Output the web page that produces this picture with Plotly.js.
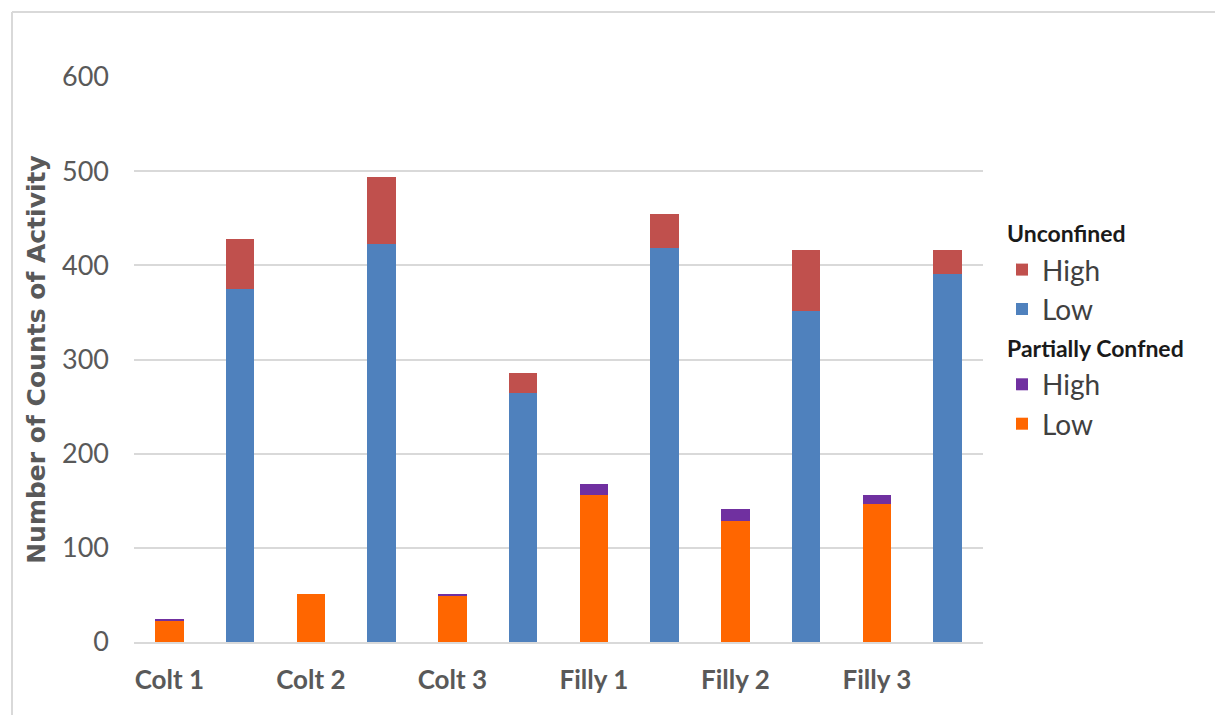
<!DOCTYPE html>
<html>
<head>
<meta charset="utf-8">
<script src="https://cdn.plot.ly/plotly-3.0.1.min.js"></script>
<style>
html,body{margin:0;padding:0;background:#fff;}
#chart{width:1215px;height:715px;}
</style>
</head>
<body>
<div id="chart"></div>
<script>
// Data
var animals = ["Colt 1", "Colt 2", "Colt 3", "Filly 1", "Filly 2", "Filly 3"];
var partialLow  = [22, 51, 49, 156, 129, 147];
var partialHigh = [2, 0, 2, 12, 12, 9];
var unconfinedLow  = [375, 423, 264, 418, 352, 391];
var unconfinedHigh = [53, 71, 22, 37, 64, 25];
var yTicks = [0, 100, 200, 300, 400, 500, 600];

// each animal occupies two slots: partially confined, then unconfined
var xPartial = animals.map(function(_, i){ return i * 2; });
var xUnconf  = animals.map(function(_, i){ return i * 2 + 1; });

var W = 1215, H = 715;
var M = {l: 134, r: 232, t: 77, b: 73};
var pw = W - M.l - M.r, ph = H - M.t - M.b;
function px(x){ return (x - M.l) / pw; }
function py(y){ return (H - M.b - y) / ph; }

var legendFont = {family: "Lato, 'Open Sans', sans-serif", size: 28, color: "#404040"};
var groupFont = {family: "Lato, 'Open Sans', sans-serif", size: 23, color: "#1a1a1a", weight: "bold"};

var traces = [
  {type: "bar", x: xUnconf, y: unconfinedLow, name: "Low",
   marker: {color: "#4F81BD"}, legendgroup: "unconf",
   legendgrouptitle: {text: "Unconfined", font: groupFont}},
  {type: "bar", x: xUnconf, y: unconfinedHigh, name: "High",
   marker: {color: "#C0504D"}, legendgroup: "unconf",
   legendgrouptitle: {text: "Unconfined", font: groupFont}},
  {type: "bar", x: xPartial, y: partialLow, name: "Low",
   marker: {color: "#FF6600"}, legendgroup: "partial",
   legendgrouptitle: {text: "Partially Confned", font: groupFont}},
  {type: "bar", x: xPartial, y: partialHigh, name: "High",
   marker: {color: "#7030A0"}, legendgroup: "partial",
   legendgrouptitle: {text: "Partially Confned", font: groupFont}}
];

var layout = {
  width: W, height: H,
  margin: M,
  paper_bgcolor: "#ffffff",
  plot_bgcolor: "#ffffff",
  barmode: "stack",
  bargap: 0.6,
  showlegend: true,
  legend: {
    x: px(1002), y: py(212), xanchor: "left", yanchor: "top",
    traceorder: "grouped+reversed",
    font: legendFont,
    tracegroupgap: 3,
    itemwidth: 30,
    bgcolor: "rgba(0,0,0,0)"
  },
  xaxis: {
    range: [-0.5, 11.5],
    tickmode: "array",
    tickvals: xPartial,
    ticktext: animals,
    showgrid: false,
    zeroline: false,
    showline: true,
    linecolor: "#D9D9D9",
    linewidth: 2,
    ticks: "",
    ticklabelstandoff: 14,
    tickfont: {family: "Lato, 'Open Sans', sans-serif", size: 26, color: "#595959", weight: "bold"},
    fixedrange: true
  },
  yaxis: {
    range: [0, 600],
    tickmode: "array",
    tickvals: yTicks,
    ticktext: yTicks.map(String),
    showgrid: true,
    gridcolor: "#D9D9D9",
    gridwidth: 2,
    zeroline: false,
    showline: false,
    ticks: "",
    ticklabelstandoff: 24,
    tickfont: {family: "Lato, 'Open Sans', sans-serif", size: 27, color: "#595959"},
    title: {text: "Number of Counts of Activity", standoff: 9,
            font: {family: "'DejaVu Sans', sans-serif", size: 25, color: "#595959", weight: "bold"}},
    fixedrange: true
  },
  shapes: [
    {type: "line", xref: "paper", yref: "paper", x0: px(12), x1: px(12), y0: py(12), y1: py(H),
     line: {color: "#D9D9D9", width: 2}},
    {type: "line", xref: "paper", yref: "paper", x0: px(12), x1: px(W), y0: py(12), y1: py(12),
     line: {color: "#D9D9D9", width: 2}}
  ]
};

Plotly.newPlot("chart", traces, layout, {displayModeBar: false, staticPlot: true});
</script>
</body>
</html>
